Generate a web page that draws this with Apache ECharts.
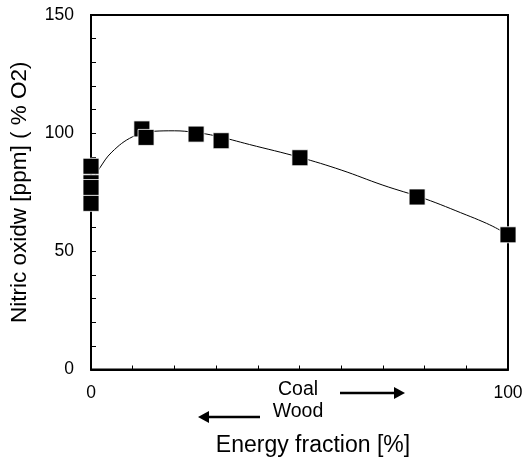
<!DOCTYPE html>
<html><head><meta charset="utf-8">
<script src="https://cdn.jsdelivr.net/npm/echarts@6/dist/echarts.min.js"></script>
<style>html,body{margin:0;padding:0;background:#fff}#c{width:527px;height:468px}</style>
</head><body><div id="c"></div>
<script>
// measured points
const pointX = [0, 0, 0, 0, 12.2, 13.2, 25.2, 31.2, 50.1, 78.2, 100];
const pointY = [86, 79, 77, 70.3, 101.8, 98.2, 99.6, 96.8, 89.6, 73, 57];
// trend curve
const curveX = [0, 2, 5, 10, 15, 20, 25, 30, 38, 50, 60, 70, 80, 90, 94, 97, 100];
const curveY = [79, 85, 92, 98.5, 100.8, 101, 100.3, 98.8, 95.2, 89.8, 84.4, 78, 72.3, 65.4, 62.5, 60, 57];
const xTicks = [0, 100];
const yTicks = [0, 50, 100, 150];

const font = 'Liberation Sans, Arial, sans-serif';
const chart = echarts.init(document.getElementById('c'));
chart.setOption({
  animation: false,
  backgroundColor: '#fff',
  grid: {left: 90, top: 15, right: 19, bottom: 98.5, show: true, borderColor: '#000', borderWidth: 2, backgroundColor: 'transparent'},
  xAxis: {
    type: 'value', min: 0, max: 100, interval: 10,
    axisLine: {lineStyle: {color: '#000', width: 2}},
    axisTick: {inside: true, length: 4, lineStyle: {color: '#000', width: 1}},
    splitLine: {show: false},
    axisLabel: {color: '#000', fontSize: 17.5, fontFamily: font, margin: 15,
      formatter: v => xTicks.includes(v) ? String(v) : ''}
  },
  yAxis: {
    type: 'value', min: 0, max: 150, interval: 10,
    axisLine: {lineStyle: {color: '#000', width: 2}},
    axisTick: {inside: true, length: 5, lineStyle: {color: '#000', width: 1}},
    splitLine: {show: false},
    name: 'Nitric oxidw [ppm] ( % O2)', nameLocation: 'middle', nameGap: 60,
    nameTextStyle: {color: '#000', fontSize: 22.5, fontFamily: font},
    axisLabel: {color: '#000', fontSize: 17.5, fontFamily: font, margin: 17,
      formatter: v => yTicks.includes(v) ? String(v) : ''}
  },
  series: [
    {type: 'line', data: curveX.map((x, i) => [x, curveY[i]]), smooth: 0.4, symbol: 'none', clip: false,
      lineStyle: {color: '#000', width: 1}, z: 2},
    {type: 'scatter', data: pointX.map((x, i) => [x, pointY[i]]), symbol: 'rect', symbolSize: 16, clip: false,
      itemStyle: {color: '#000', borderColor: '#fff', borderWidth: 0.8, opacity: 1}, z: 3}
  ],
  graphic: [
    {type: 'text', style: {text: 'Coal', font: '19.5px ' + font, fill: '#000', textAlign: 'center', textVerticalAlign: 'middle', x: 298, y: 390}},
    {type: 'text', style: {text: 'Wood', font: '19.5px ' + font, fill: '#000', textAlign: 'center', textVerticalAlign: 'middle', x: 298, y: 412}},
    {type: 'line', shape: {x1: 340, y1: 393, x2: 394, y2: 393}, style: {stroke: '#000', lineWidth: 2.5}},
    {type: 'polygon', shape: {points: [[394, 387], [405, 393], [394, 399]]}, style: {fill: '#000'}},
    {type: 'line', shape: {x1: 260, y1: 417, x2: 208, y2: 417}, style: {stroke: '#000', lineWidth: 2.5}},
    {type: 'polygon', shape: {points: [[209, 411], [198, 417], [209, 423]]}, style: {fill: '#000'}},
    {type: 'text', style: {text: 'Energy fraction [%]', font: '23px ' + font, fill: '#000', textAlign: 'center', textVerticalAlign: 'middle', x: 313, y: 446}}
  ]
});
</script></body></html>
